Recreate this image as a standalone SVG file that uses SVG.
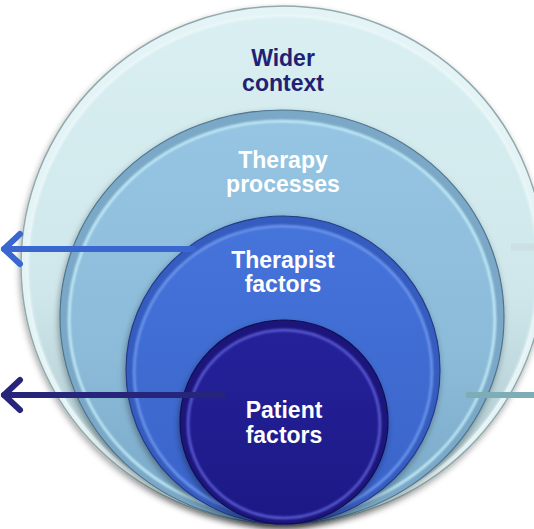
<svg xmlns="http://www.w3.org/2000/svg" width="534" height="529" viewBox="0 0 534 529">
  <defs>
    <linearGradient id="gOuter" x1="0" y1="0" x2="0" y2="1">
      <stop offset="0" stop-color="#D9EFF2"/>
      <stop offset="0.55" stop-color="#CFE7EB"/>
      <stop offset="1" stop-color="#A3BFC6"/>
    </linearGradient>
    <linearGradient id="gProc" x1="0" y1="0" x2="0" y2="1">
      <stop offset="0" stop-color="#95C5E2"/>
      <stop offset="0.6" stop-color="#8BBBD8"/>
      <stop offset="1" stop-color="#79A8C6"/>
    </linearGradient>
    <linearGradient id="gTher" x1="0" y1="0" x2="0" y2="1">
      <stop offset="0" stop-color="#4574DA"/>
      <stop offset="1" stop-color="#3A63C9"/>
    </linearGradient>
    <linearGradient id="gPat" x1="0" y1="0" x2="0" y2="1">
      <stop offset="0" stop-color="#25219A"/>
      <stop offset="1" stop-color="#1C1986"/>
    </linearGradient>
    <filter id="shadow" x="-10%" y="-10%" width="120%" height="120%">
      <feDropShadow dx="-1" dy="3" stdDeviation="3" flood-color="#000" flood-opacity="0.35"/>
    </filter>
    <filter id="soft" x="-5%" y="-5%" width="110%" height="110%">
      <feGaussianBlur stdDeviation="1.2"/>
    </filter>
  </defs>
  <style>
    .lbl { font-family: "Liberation Sans", Arial, sans-serif; font-weight: bold; font-size: 23px; text-anchor: middle; }
    .dark { fill: #1F2272; }
    .light { fill: #FFFFFF; }
    .conn { fill: none; stroke-width: 6; stroke-linecap: round; stroke-linejoin: round; }
  </style>

  <g id="wider-context">
    <ellipse cx="283" cy="265" rx="262" ry="259" fill="#E4F3F5" stroke="#93AAAD" stroke-width="1.5" filter="url(#shadow)"/>
    <ellipse cx="283" cy="268" rx="255" ry="252" fill="url(#gOuter)"/>
    <ellipse cx="283" cy="268" rx="255" ry="252" fill="none" stroke="#F4FCFD" stroke-width="2" opacity="0.7" filter="url(#soft)"/>
    <text class="lbl dark" x="283" y="66">Wider</text>
    <text class="lbl dark" x="283" y="90.5">context</text>
  </g>

  <g id="therapy-processes">
    <ellipse cx="282" cy="317" rx="222" ry="207" fill="#7AA8C6" stroke="#4E7590" stroke-width="1.2" filter="url(#shadow)"/>
    <ellipse cx="282" cy="319" rx="213" ry="198" fill="url(#gProc)"/>
    <ellipse cx="282" cy="319" rx="213" ry="198" fill="none" stroke="#C6EEFB" stroke-width="2.5" filter="url(#soft)"/>
    <text class="lbl light" x="283" y="168">Therapy</text>
    <text class="lbl light" x="283" y="192">processes</text>
  </g>

  <g id="therapist-factors">
    <ellipse cx="283" cy="370" rx="157" ry="154" fill="#355DC0" stroke="#263A86" stroke-width="1.2" filter="url(#shadow)"/>
    <ellipse cx="283" cy="372" rx="149" ry="146" fill="url(#gTher)"/>
    <ellipse cx="283" cy="372" rx="149" ry="146" fill="none" stroke="#7098EE" stroke-width="2.5" filter="url(#soft)"/>
    <text class="lbl light" x="283" y="268">Therapist</text>
    <text class="lbl light" x="283" y="292">factors</text>
  </g>

  <g id="patient-factors">
    <ellipse cx="284" cy="422" rx="104" ry="102" fill="#1A177C" stroke="#120F50" stroke-width="1.2" filter="url(#shadow)"/>
    <ellipse cx="284" cy="424" rx="96" ry="94" fill="url(#gPat)"/>
    <ellipse cx="284" cy="424" rx="96" ry="94" fill="none" stroke="#5E5ED8" stroke-width="2.5" filter="url(#soft)"/>
    <text class="lbl light" x="284" y="418">Patient</text>
    <text class="lbl light" x="284" y="443">factors</text>
  </g>

  <g id="connectors">
    <path class="conn" stroke="#3A67CF" d="M193,249 H4"/>
    <path class="conn" stroke="#3A67CF" d="M20,234 L4,249 L20,264"/>
    <path class="conn" stroke="#26257A" d="M223,395 H4"/>
    <path class="conn" stroke="#26257A" d="M20,380 L4,395 L20,410"/>
    <path fill="none" stroke="#CCDFE2" stroke-width="7" d="M511,247 H534"/>
    <path fill="none" stroke="#7DAEB5" stroke-width="6" d="M466,395 H534"/>
  </g>
</svg>
